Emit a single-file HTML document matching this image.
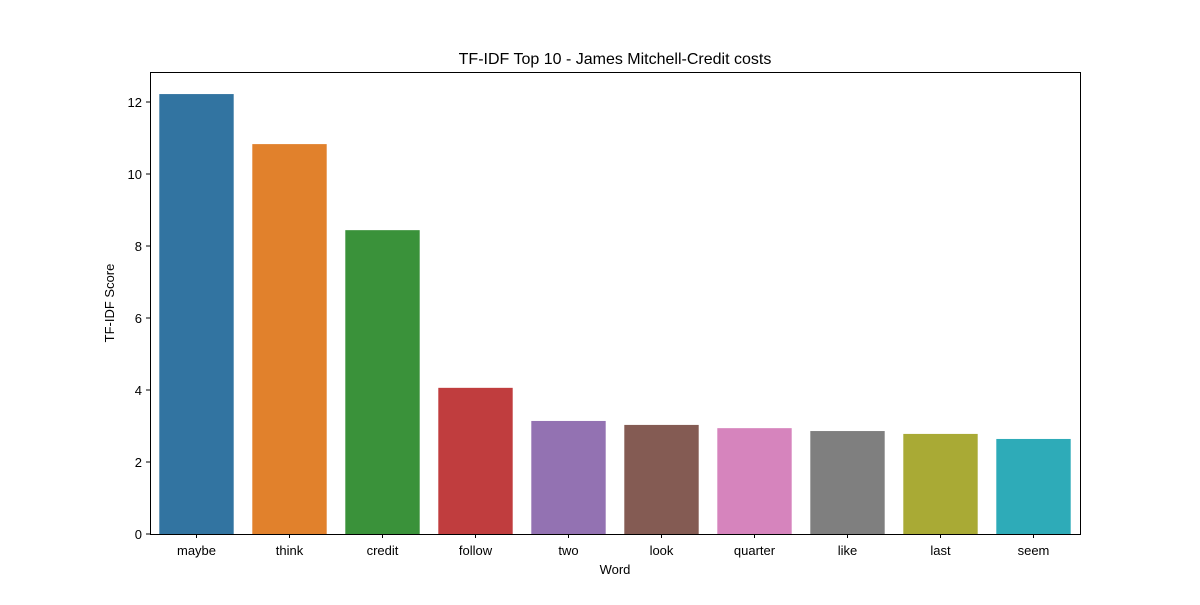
<!DOCTYPE html>
<html><head><meta charset="utf-8"><style>
body{margin:0;background:#fff;}
svg text{font-family:"Liberation Sans","DejaVu Sans",sans-serif;fill:#000;}
</style></head><body>
<svg id="chart" width="1200" height="600">
<rect width="1200" height="600" fill="#fff"/>
<text x="615" y="64" font-size="16" text-anchor="middle">TF-IDF Top 10 - James Mitchell-Credit costs</text>
<g id="bars"></g><g id="xticks"></g><g id="yticks"></g>
<rect x="150.5" y="72.5" width="930" height="462" fill="none" stroke="#000" stroke-width="1"/>
<text x="615" y="574" font-size="13" text-anchor="middle">Word</text>
<text transform="translate(114,303) rotate(-90)" font-size="13" text-anchor="middle">TF-IDF Score</text>
</svg>
<script>
const categories=["maybe","think","credit","follow","two","look","quarter","like","last","seem"];
const scores=[12.22,10.83,8.44,4.06,3.14,3.03,2.94,2.86,2.78,2.64];
const yTicks=[0,2,4,6,8,10,12];
const colors=["#3274a1","#e1812c","#3a923a","#c03d3e","#9372b2","#845b53","#d684bd","#7f7f7f","#a9aa35","#2eabb8"];
const L=150,R=1080,T=72,B=534,yMax=12.833;
const ns="http://www.w3.org/2000/svg";
const band=(R-L)/categories.length;
const x=i=>L+band*(i+0.5);
const y=v=>B-(v/yMax)*(B-T);
const bars=document.getElementById('bars'),xt=document.getElementById('xticks'),yt=document.getElementById('yticks');
categories.forEach((c,i)=>{
 const r=document.createElementNS(ns,'rect');
 r.setAttribute('x',x(i)-band*0.4);r.setAttribute('width',band*0.8);
 r.setAttribute('y',y(scores[i]));r.setAttribute('height',B-y(scores[i]));
 r.setAttribute('fill',colors[i]);
 
 
 bars.appendChild(r);
 const l=document.createElementNS(ns,'line');
 l.setAttribute('x1',x(i));l.setAttribute('x2',x(i));l.setAttribute('y1',B);l.setAttribute('y2',B+4);l.setAttribute('stroke','#000');
 
 
 xt.appendChild(l);
 const t=document.createElementNS(ns,'text');
 t.setAttribute('x',x(i));t.setAttribute('y',B+21);t.setAttribute('font-size','13');t.setAttribute('text-anchor','middle');t.textContent=c;
 
 
 xt.appendChild(t);
});
yTicks.forEach(v=>{
 const l=document.createElementNS(ns,'line');
 l.setAttribute('x1',L-4);l.setAttribute('x2',L);l.setAttribute('y1',y(v));l.setAttribute('y2',y(v));l.setAttribute('stroke','#000');
 
 
 yt.appendChild(l);
 const t=document.createElementNS(ns,'text');
 t.setAttribute('x',L-8);t.setAttribute('y',y(v)+5);t.setAttribute('font-size','13');t.setAttribute('text-anchor','end');t.textContent=v;
 
 
 yt.appendChild(t);
});
</script>
</body></html>
